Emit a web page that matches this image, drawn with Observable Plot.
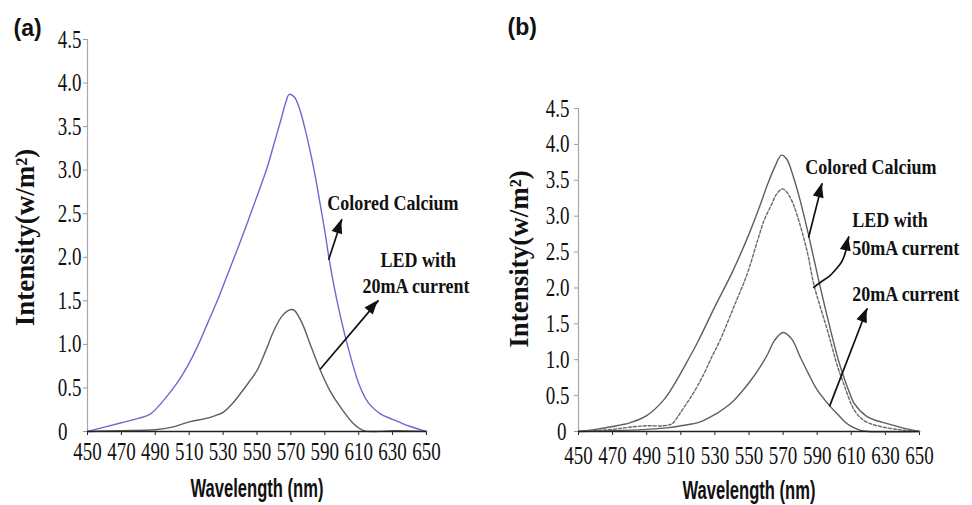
<!DOCTYPE html>
<html><head><meta charset="utf-8">
<script src="https://cdn.jsdelivr.net/npm/d3@7"></script>
<script src="https://cdn.jsdelivr.net/npm/@observablehq/plot@0.6"></script>
<style>
html,body{margin:0;padding:0;background:#fff;}
#wrap{position:relative;width:972px;height:505px;overflow:hidden;background:#fff;}
#wrap svg{position:absolute;top:0;}
</style></head><body><div id="wrap"></div>
<script>
// ---------- data ----------
const xTicks = [450,470,490,510,530,550,570,590,610,630,650];
const yTicks = [0,0.5,1,1.5,2,2.5,3,3.5,4,4.5];
const xDomain = [450,650];
const yDomain = [0,4.5];

// Panel (a)
const calciumA = [[450,0],[460,0.05],[470,0.10],[480,0.15],[487,0.20],[495,0.36],[503,0.56],[509,0.75],[515,0.98],[521,1.25],[527,1.52],[532,1.77],[538,2.07],[544,2.38],[550,2.70],[556,3.03],[560,3.30],[564,3.57],[567,3.78],[569,3.87],[572,3.84],[575,3.71],[578,3.50],[581,3.25],[584,2.97],[587,2.64],[590,2.30],[593,1.93],[597,1.52],[603,1.02],[610,0.55],[614,0.38],[617,0.30],[623,0.20],[630,0.14],[640,0.06],[650,0]];
const led20A = [[450,0],[470,0.01],[490,0.02],[500,0.05],[510,0.11],[520,0.15],[525,0.18],[530,0.22],[535,0.31],[540,0.43],[545,0.56],[550,0.70],[555,0.92],[560,1.16],[565,1.33],[570,1.40],[572,1.39],[576,1.27],[582,0.97],[587,0.72],[593,0.47],[600,0.26],[607,0.09],[613,0.01],[620,0],[630,0.01],[650,0]];

// Panel (b)
const calciumB = [[450,0],[460,0.03],[470,0.07],[480,0.12],[490,0.22],[500,0.44],[506,0.65],[512,0.90],[520,1.25],[530,1.74],[540,2.21],[550,2.75],[556,3.12],[561,3.45],[565,3.68],[569,3.85],[572,3.80],[576,3.55],[580,3.22],[585,2.73],[590,2.20],[596,1.59],[602,1.03],[605,0.80],[608,0.60],[612,0.38],[619,0.21],[625,0.15],[631,0.11],[640,0.05],[650,0]];
const led50B = [[450,0],[470,0.03],[480,0.06],[490,0.08],[500,0.08],[505,0.11],[508,0.20],[512,0.34],[518,0.56],[523.5,0.80],[528,1.03],[533,1.27],[541,1.73],[549,2.20],[555,2.66],[559,2.95],[563,3.15],[566,3.30],[569.5,3.38],[572,3.34],[575,3.22],[578,3.03],[584,2.52],[588,2.05],[592,1.72],[596,1.41],[602,0.90],[605,0.70],[608,0.50],[611,0.33],[615,0.20],[620,0.12],[629,0.06],[640,0.02],[650,0]];
const led20B = [[450,0],[470,0.01],[490,0.03],[502,0.05],[510,0.08],[521,0.13],[531,0.25],[536,0.33],[541,0.43],[546,0.56],[551,0.71],[556,0.88],[561,1.08],[565,1.27],[570,1.38],[575,1.29],[580,1.04],[585,0.80],[590,0.58],[598,0.34],[602,0.24],[606,0.14],[610,0.07],[615,0.02],[620,0],[650,0]];

// Annotations (data coordinates, text starts at x)
const labelsA = [
  {text:"Colored Calcium", x:591.5, y:2.62},
  {text:"LED with", x:622.9, y:1.97},
  {text:"20mA current", x:612.2, y:1.67}
];
const arrowsA = [
  [[592.4,1.98],[600,2.43]],
  [[587.5,0.72],[621.5,1.50]]
];
const labelsB = [
  {text:"Colored Calcium", x:583, y:3.68},
  {text:"LED with", x:610.5, y:2.94},
  {text:"50mA current", x:610.5, y:2.55},
  {text:"20mA current", x:610.5, y:1.92}
];
const arrowsB = [
  [[585,2.71],[592.9,3.45]],
  [[588,2.01],[592,2.08],[597,2.16],[601,2.26],[604.5,2.37],[606.6,2.50],[608.5,2.71]],
  [[597.4,0.36],[619.3,1.71]]
];

// ---------- styles ----------
const SERIF = "'Liberation Serif','Times New Roman',serif";
const SANS = "'Liberation Sans',Arial,sans-serif";
const fmt = d => d === 0 ? "0" : d.toFixed(1);

function headsMark(arrows){
  return (index, scales) => {
    const g = d3.create("svg:g").attr("aria-label", "arrowheads");
    const L = 14, W = 11;
    for (const a of arrows) {
      const p = a[a.length-1], q = a[a.length-2];
      const X = scales.x(p[0]), Y = scales.y(p[1]);
      const Xq = scales.x(q[0]), Yq = scales.y(q[1]);
      const ang = Math.atan2(X - Xq, -(Y - Yq)) * 180 / Math.PI;
      g.append("path")
        .attr("d", `M0,0L${W/2},${L}L${-W/2},${L}Z`)
        .attr("fill", "#111")
        .attr("transform", `translate(${X},${Y}) rotate(${ang})`);
    }
    return g.node();
  };
}

function stretchText(t, sx, sy){
  const bb = t.getBBox();
  const cx = bb.x + bb.width/2, cy = bb.y + bb.height/2;
  const tr = t.getAttribute("transform") || "";
  t.setAttribute("transform", `${tr} translate(${cx},${cy}) scale(${sx},${sy}) translate(${-cx},${-cy})`);
}

function panel(cfg){
  const {width, height, ml, mr, mt, mb, series, arrows, labels, tag, tagDx, tagDy, ytDx, ytDy, yPad, xPad, xtDy} = cfg;
  return Plot.plot({
    width, height, marginLeft: ml, marginRight: mr, marginTop: mt, marginBottom: mb,
    x: {domain: xDomain}, y: {domain: yDomain},
    style: {fontFamily: SERIF, fontSize: "19px", background: "transparent", overflow: "visible", color: "#111"},
    marks: [
      Plot.ruleX([xDomain[0]], {stroke: "#a8a8a8", strokeWidth: 1.2}),
      Plot.axisY({ticks: yTicks, tickFormat: fmt, tickSize: 4, tickPadding: yPad, stroke: "#999", fill: "#111", label: null}),
      Plot.axisX({ticks: xTicks, tickSize: 4, tickPadding: xPad, stroke: "#222", fill: "#111", label: null}),
      ...series.map(s => Plot.line(s.data, {x: d => d[0], y: d => d[1], stroke: s.color, strokeWidth: 1.4, strokeDasharray: s.dash, curve: "catmull-rom"})),
      Plot.ruleY([0], {stroke: "#222", strokeWidth: 1.3}),
      ...arrows.map(a => Plot.line(a, {x: d => d[0], y: d => d[1], stroke: "#111", strokeWidth: 1.7, curve: a.length > 2 ? "catmull-rom" : "linear"})),
      headsMark(arrows),
      Plot.text(labels, {x: "x", y: "y", text: "text", textAnchor: "start", fontFamily: SERIF, fontWeight: "bold", fontSize: 18, fill: "#111"}),
      Plot.text(["Wavelength (nm)"], {frameAnchor: "bottom", dy: xtDy, lineAnchor: "middle", fontFamily: SANS, fontWeight: "bold", fontSize: 20, fill: "#111"}),
      Plot.text(["Intensity(w/m²)"], {frameAnchor: "left", dx: ytDx, dy: ytDy, rotate: -90, textAnchor: "middle", lineAnchor: "middle", fontFamily: SERIF, fontWeight: "bold", fontSize: 27, fill: "#111"}),
      Plot.text([tag], {frameAnchor: "top-left", dx: tagDx, dy: tagDy, textAnchor: "start", lineAnchor: "middle", fontFamily: SANS, fontWeight: "bold", fontSize: 23, fill: "#111"})
    ]
  });
}

function finish(svg, labels, zeroShift){
  const notes = new Set(labels.map(d => d.text));
  svg.querySelectorAll("text").forEach(t => {
    const s = t.textContent.trim();
    if (/^\d+(\.\d)?$/.test(s)) {
      if (s === "0" && zeroShift) {
        const tr = t.getAttribute("transform") || "";
        t.setAttribute("transform", `${tr} translate(${zeroShift},0)`);
      }
      stretchText(t, 1, 1.3);
    } else if (notes.has(s)) {
      stretchText(t, 1, 1.2);
    } else if (s === "Wavelength (nm)") {
      stretchText(t, 0.83, 1.3);
    }
  });
}

const wrap = document.getElementById("wrap");
const a = panel({
  width: 480, height: 505, ml: 87, mr: 54, mt: 39, mb: 74,
  series: [{data: calciumA, color: "#6a6ad2"}, {data: led20A, color: "#5e5e5e"}],
  arrows: arrowsA, labels: labelsA, tag: "(a)", tagDx: -74, tagDy: -11, ytDx: -62, ytDy: 2, yPad: 2, xPad: 9, xtDy: 57
});
a.style.left = "0px";
wrap.appendChild(a);
finish(a, labelsA, -14);
const b = panel({
  width: 492, height: 505, ml: 98, mr: 53, mt: 108, mb: 74,
  series: [{data: calciumB, color: "#5e5e5e"}, {data: led50B, color: "#6a6a6a", dash: "3,2"}, {data: led20B, color: "#5e5e5e"}],
  arrows: arrowsB, labels: labelsB, tag: "(b)", tagDx: -71, tagDy: -81, ytDx: -59, ytDy: -11, yPad: 5, xPad: 13, xtDy: 59
});
b.style.left = "480px";
wrap.appendChild(b);
finish(b, labelsB, -3);
</script></body></html>
